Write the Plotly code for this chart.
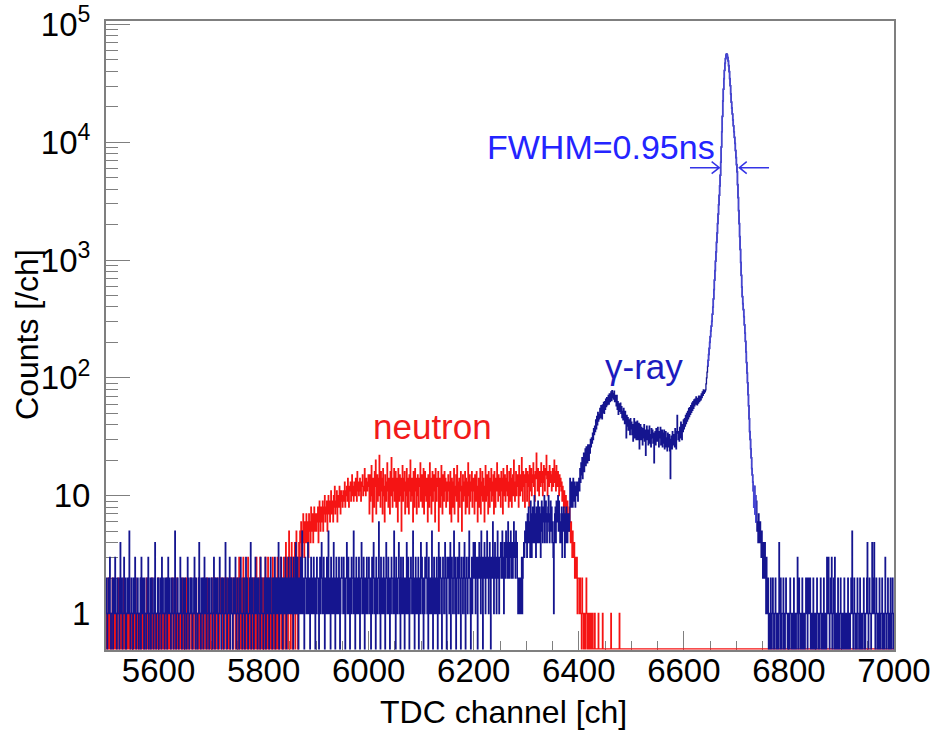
import numpy as np
import plotly.graph_objects as go

# ---------------- data (counts per TDC channel) ----------------
first_channel = 5500
last_channel = 7000

# total (gamma + neutron) spectrum, dark blue
blue_5500 = [
    2,1,0,1,2,2,1,3,1,0, 1,1,2,0,2,1,1,3,2,1, 0,1,2,1,1,0,2,4,1,1, 2,0,1,1,3,1,2,0,0,1, 2,1,1,2,5,1,0,1,2,1,
    1,0,2,1,1,3,1,0,1,2, 2,1,0,1,1,2,0,3,1,1, 2,1,0,2,1,1,0,1,2,1, 3,0,1,1,2,0,1,2,1,1, 0,2,1,4,1,0,1,1,2,2,
    0,1,1,2,1,0,3,1,2,1, 1,0,2,1,1,2,0,1,3,1, 1,2,1,0,1,2,1,1,0,2, 1,5,1,0,1,2,2,1,0,1, 1,3,1,2,0,1,1,2,1,0,
    2,1,1,0,1,3,2,1,0,1, 2,1,1,2,0,1,1,2,3,1, 0,2,1,1,0,1,2,4,1,1, 0,2,1,1,2,0,1,3,1,1, 2,0,1,1,2,1,0,2,1,1,
    1,2,0,1,1,3,1,0,2,1, 1,2,1,0,1,2,3,1,1,0, 2,1,1,2,0,1,1,4,2,1, 0,1,2,1,1,3,0,1,2,1, 1,0,2,1,1,2,3,1,0,1,
    2,1,1,0,2,1,3,1,1,0, 1,2,2,1,0,1,3,1,2,1, 0,1,1,2,1,4,0,1,2,1, 1,0,2,1,3,1,1,2,0,1, 2,1,1,0,3,1,2,1,1,0,
    1,2,1,3,0,1,2,1,1,2, 0,2,1,3,1,1,0,2,2,1, 1,3,0,1,2,2,1,1,4,0, 2,1,1,3,2,1,0,2,1,2, 1,3,1,0,2,2,1,3,1,2,
]
blue_5850 = [
    2,1,3,2,1,2,0,3,2,1, 2,4,1,2,3,1,0,2,2,1, 3,2,1,5,2,1,2,0,1,3, 2,2,1,2,4,1,2,1,0,2, 3,1,2,2,1,3,1,2,0,2,
    1,3,2,2,1,0,2,3,1,2, 4,2,1,1,3,2,0,2,1,2, 3,1,2,5,1,2,2,0,3,1, 2,2,1,4,2,1,0,2,3,1, 2,2,1,3,2,0,1,2,3,2,
    2,1,3,1,2,0,2,2,4,1, 2,3,1,2,0,2,1,3,2,2, 1,5,2,1,0,2,3,1,2,2, 1,3,2,0,1,2,4,2,1,2, 3,1,0,2,2,1,3,2,1,2,
    3,2,1,2,0,2,3,1,2,4, 2,1,2,0,3,2,1,2,2,6, 1,2,0,3,1,2,2,1,3,2, 1,0,2,4,2,1,2,3,1,2, 0,2,1,3,2,2,1,2,5,1,
    2,0,3,2,1,2,2,4,1,2, 0,3,2,1,2,3,1,2,0,2, 2,1,4,2,1,3,2,0,1,2, 3,2,1,2,5,1,2,0,2,3, 1,2,2,1,3,0,2,2,1,4,
    2,3,1,2,0,2,1,3,2,2, 4,1,2,0,3,2,1,2,2,1, 5,2,0,2,3,1,2,2,1,3, 2,0,2,4,1,2,3,2,1,0, 2,3,2,1,2,4,2,1,0,3,
    2,2,3,1,2,4,0,2,3,2, 1,2,5,2,1,3,0,2,2,3, 1,2,4,2,1,0,3,2,2,1, 3,2,4,1,0,2,3,2,1,2, 3,5,2,1,0,2,3,1,2,4,
    3,2,4,1,2,3,2,0,3,2, 4,3,2,1,5,2,3,0,2,3, 4,2,1,3,2,5,2,3,1,2, 4,3,0,2,3,2,6,2,1,3, 4,2,3,1,2,5,3,2,1,3,
    3,4,2,3,5,2,3,1,4,3, 2,5,3,4,2,6,3,2,4,3, 5,2,3,4,2,3,6,4,3,2, 5,3,4,2,1,2,1,1,2,1, 2,3,1,2,3,4,3,5,4,6,
]
blue_6300 = [
    5,3,7,4,8,4,6,3,9,5, 3,7,8,4,6,10,4,7,3,8, 6,4,9,5,4,8,6,3,7,9, 5,4,8,6,10,4,6,9,7,4, 6,8,10,5,4,7,9,5,8,4,
    6,3,1,4,7,8,4,9,6,8, 10,5,9,7,4,6,4,8,3,7, 5,8,6,3,7,4,8,6,4,7, 7,5,6,14,10,8,13,9,8,14, 11,9,13,8,12,10,13,11,9,13,
]
blue_6400 = [
    14,11,17,13,19,15,21,14,20,23,
    16,22,25,18,26,21,19,27,22,20,
    27,23,30,26,31,28,34,30,37,33,
    39,35,44,37,47,40,51,43,49,45,
    55,46,58,49,45,59,51,62,50,63,
    54,66,57,68,59,64,71,60,73,63,
    69,76,64,78,68,74,66,77,63,71,
]
blue_6470 = [
    66,58,71,54,63,49,60,57,52,61,
    50,57,46,52,44,55,47,41,52,45,
    31,48,39,46,36,44,40,33,45,37,
    42,33,40,29,39,45,31,38,42,30,
    37,43,30,36,41,25,35,40,30,38,
    33,27,37,31,40,29,36,22,34,39,
    30,36,27,34,39,28,33,26,37,31,
    36,28,34,19,30,35,27,37,29,33,
    38,29,26,35,31,38,27,34,36,26,
    34,28,36,25,33,35,26,31,24,34,
    29,26,33,24,14,30,32,25,35,28,
    27,33,26,37,30,25,35,48,34,30,
    35,29,38,31,42,33,30,40,35,44,
    37,45,39,48,41,50,43,52,45,55,
    47,56,49,58,51,61,53,63,55,65,
    58,66,60,69,62,59,67,61,70,63,
    64,70,65,73,68,76,71,79,74,78,
]
blue_6640 = [
    76,79,89,100,112,126,141,158,178,200,
    224,251,275,302,347,398,468,562,676,813,
    977,1175,1413,1698,2042,2455,2951,3548,4266,5248,
    6761,9120,12300,16600,22400,28200,34700,40700,46800,51300,
    55000,56200,55000,52500,49000,44700,39800,34700,30200,25700,
    21900,19500,17400,15500,13800,12300,11000,9770,8510,7410,
    6460,5620,4370,3390,2630,2040,1580,1230,955,741,
    589,490,427,380,331,282,240,204,166,135,
    110,91,72,58,45,35,30,25,21,17,
    15,13,11,8,12,7,10,6,9,5,
    6,4,7,5,4,6,4,3,5,4,
    2,4,3,2,4,3,1,3,2,1,
]
blue_6760 = [
    2,0,1,1,0,2,1,0,1,2, 1,0,0,1,2,1,0,1,1,0, 1,4,1,0,2,1,0,1,1,2, 0,1,0,1,2,1,1,0,1,0,
    1,0,2,1,1,0,1,0,1,2, 0,1,1,0,1,1,3,0,1,2, 1,0,1,1,0,2,1,0,1,1, 0,1,2,1,2,0,1,2,2,1,
    2,0,1,1,0,1,2,0,1,1, 0,1,0,2,1,1,0,1,0,1, 2,1,0,1,1,0,2,1,0,1, 1,0,3,1,2,3,1,0,1,2,
    1,3,0,1,1,2,0,3,1,0, 1,1,0,2,1,0,1,1,2,0, 1,0,1,1,0,2,1,0,1,1, 0,1,2,0,1,1,0,1,2,1,
    5,1,0,1,2,1,0,1,1,0, 2,1,1,0,1,2,0,1,1,0, 1,1,2,0,1,0,1,1,2,4, 1,0,1,2,1,1,0,1,4,1,
    2,1,4,1,0,1,2,1,0,1, 1,0,2,1,0,1,1,2,0,1, 1,0,1,3,1,0,1,1,2,0, 1,1,0,2,1,0,1,2,1,0,
]

# neutron-gated spectrum, red
red_5500 = [
    1,0,0,1,2,0,1,1,0,0, 1,0,2,1,0,0,1,1,0,1, 0,0,1,2,1,0,0,1,0,1, 1,0,0,2,1,0,1,0,0,1, 1,0,1,0,2,0,0,1,1,0,
    0,1,1,0,0,1,2,0,1,0, 0,1,1,0,1,0,2,1,0,0, 1,0,1,1,0,0,1,2,0,1, 0,1,0,0,1,1,0,2,1,0, 0,1,0,1,1,0,1,0,0,2,
    1,0,1,1,0,0,2,1,0,1, 0,0,1,1,0,1,2,0,0,1, 1,0,1,0,0,1,2,1,0,0, 1,1,0,1,0,2,1,0,1,0, 0,1,1,0,1,2,0,1,0,1,
    0,1,2,0,1,1,0,0,1,0, 1,2,1,0,1,0,0,1,1,2, 0,1,0,1,1,0,2,1,0,1, 0,1,1,0,0,2,1,1,0,1, 0,1,2,0,1,1,0,1,0,1,
    1,2,0,1,1,0,1,2,1,0, 1,1,2,0,1,0,1,2,1,1, 0,2,1,0,1,1,2,1,0,1, 2,1,1,0,1,2,0,1,1,2, 1,0,1,2,1,1,0,2,1,1,
    2,0,1,3,0,2,0,1,2,0, 1,3,0,1,2,0,2,1,0,1, 3,0,1,0,2,1,0,1,2,0, 1,2,0,2,1,0,3,1,0,0, 2,1,0,3,1,0,2,1,0,2,
    1,0,2,3,0,2,1,0,3,1, 0,1,2,0,1,2,0,3,1,0, 2,1,0,2,1,0,3,2,0,1, 0,2,3,1,0,2,1,0,3,2, 1,0,4,2,1,3,0,2,5,3,
]
red_5850 = [
    2,0,1,4,2,0,3,2,1,4, 0,2,5,1,3,0,3,4,2,5, 4,6,3,5,4,7,5,3,6,4, 5,7,4,6,5,3,7,5,6,4, 8,5,6,7,4,6,8,5,7,6,
    5,7,6,8,4,7,9,6,5,8, 7,6,9,5,8,7,10,6,8,7, 9,5,8,10,7,9,6,8,11,7, 9,8,6,10,8,12,7,9,8,11, 6,9,10,8,12,9,7,11,9,10,
    8,11,10,9,13,8,11,10,12,9, 14,10,8,12,11,13,9,11,15,10, 12,9,13,11,10,14,12,9,16,11, 13,10,12,14,11,9,13,12,15,10, 12,11,17,13,10,14,12,11,13,15,
]
red_6000 = [
    12,7,15,9,13,18,10,6,14,11, 8,16,12,20,7,13,15,9,14,10, 22,12,8,16,11,14,7,17,12,10, 6,15,13,9,12,19,11,8,14,12, 7,16,10,21,13,8,14,11,17,9,
    13,16,8,14,11,6,17,12,9,15, 10,14,5,13,18,9,14,11,16,7, 13,10,17,8,14,12,7,15,11,20, 9,13,14,10,6,16,12,8,17,11, 14,7,13,15,10,8,14,12,19,9,
    11,15,8,13,17,7,12,16,10,9, 14,11,6,15,13,8,19,10,14,7, 12,16,9,11,15,13,6,17,11,9, 14,12,16,5,11,14,8,13,18,10, 7,15,12,9,16,11,14,8,13,10,
    9,15,11,13,7,16,12,6,14,13, 8,11,17,7,12,10,15,9,18,11, 6,13,14,8,12,16,11,5,12,15, 9,13,10,16,7,14,11,8,13,19, 10,7,15,9,13,11,16,8,12,14,
    11,7,15,13,9,16,10,6,12,14, 8,11,17,7,13,10,16,9,14,12, 6,11,18,9,13,15,10,7,16,12, 8,14,11,17,9,13,10,15,7,16, 12,8,14,11,19,12,9,15,10,14,
    12,8,16,11,14,7,17,12,10,15, 9,14,11,18,10,13,8,16,12,9, 17,14,8,12,15,10,20,13,9,11, 16,10,14,15,12,8,18,13,10,15, 11,21,13,9,16,12,15,8,14,17,
    13,9,16,12,15,8,18,13,11,17, 10,15,13,19,12,15,9,16,14,23, 15,11,17,13,10,16,14,12,19,13, 16,10,15,18,13,11,17,15,22,14, 10,16,15,12,18,13,16,14,11,15,
]
red_6350 = [
    17,12,15,20,13,16,11,18,14,12, 16,13,10,15,12,14,11,13,9,12, 10,8,11,9,7,10,8,6,9,7, 7,5,8,6,4,6,5,3,5,4, 3,4,2,3,2,2,3,1,2,2,
    2,1,2,1,1,0,2,1,1,0, 1,1,0,1,2,1,0,1,1,0, 1,0,0,1,0,0,1,0,0,0, 1,0,0,0,0,0,0,1,0,0, 0,0,0,0,0,1,0,0,0,0,
    0,0,0,0,0,0,0,0,0,0, 0,1,0,0,0,0,0,0,0,0, 0,0,0,0,0,0,0,1,0,0, 0,0,0,0,0,0,0,0,0,0, 0,0,0,0,0,0,0,0,0,0,
]
red_6500 = [0] * 500   # no neutron counts above channel 6500

y_tick_values = [1, 10, 100, 1000, 10000, 100000]
y_tick_labels = ["1", "10", "10<sup>2</sup>", "10<sup>3</sup>", "10<sup>4</sup>", "10<sup>5</sup>"]
x_tick_values = [5600, 5800, 6000, 6200, 6400, 6600, 6800, 7000]

blue_counts = blue_5500 + blue_5850 + blue_6300 + blue_6400 + blue_6470 + blue_6640 + blue_6760
red_counts = red_5500 + red_5850 + red_6000 + red_6350 + red_6500
n_ch = last_channel - first_channel
assert len(blue_counts) == n_ch
assert len(red_counts) == n_ch

Y_MIN = 0.49      # bottom of the log frame
ZERO_LEVEL = 0.5  # empty bins are drawn at the frame bottom (ROOT style)
Y_MAX = 1.07e5
PEAK_FROM, PEAK_TO = 6645, 6738   # thin, lighter-looking part of the main peak


def hist_xy(counts, lo=None, hi=None):
    c = np.asarray(counts, dtype=float)
    shown = np.where(c > 0, c, ZERO_LEVEL)
    x = first_channel + np.arange(len(c) + 1)
    y = np.append(shown, shown[-1])
    if lo is None:
        return x, y
    i0, i1 = lo - first_channel, hi - first_channel
    return x[i0:i1 + 1], np.append(shown[i0:i1], shown[i1 - 1])


GREY = "#7f7f7f"
NAVY = "#15158f"
PEAK_BLUE = "#4646d2"
RED = "#f51414"

fig = go.Figure()
rx, ry = hist_xy(red_counts)
bx, by = hist_xy(blue_counts)
px_, py_ = hist_xy(blue_counts, PEAK_FROM, PEAK_TO)
fig.add_trace(go.Scatter(x=rx, y=ry, mode="lines", line=dict(color=RED, width=1.3, shape="hv"),
                         name="neutron", hoverinfo="skip"))
fig.add_trace(go.Scatter(x=bx, y=by, mode="lines", line=dict(color=NAVY, width=1.3, shape="hv"),
                         name="all", hoverinfo="skip"))
fig.add_trace(go.Scatter(x=px_, y=py_, mode="lines", line=dict(color=PEAK_BLUE, width=1.6, shape="hv"),
                         name="peak", hoverinfo="skip"))

FONT = "Liberation Sans, Arial, sans-serif"

fig.update_layout(
    width=935, height=731,
    margin=dict(l=106, r=41, t=21, b=81, autoexpand=False),
    plot_bgcolor="white", paper_bgcolor="white",
    showlegend=False,
    font=dict(family=FONT, size=33, color="black"),
)
fig.update_xaxes(
    range=[first_channel, last_channel],
    tickmode="array", tickvals=x_tick_values,
    ticks="inside", ticklen=19, tickwidth=1, tickcolor=GREY,
    minor=dict(dtick=50, tick0=5500, ticks="inside", ticklen=9, tickwidth=1, tickcolor=GREY),
    showline=True, linecolor=GREY, linewidth=2, mirror=True,
    showgrid=False, zeroline=False, automargin=False,
    tickfont=dict(size=33),
    ticklabelstandoff=-10,
    ticklabeloverflow="allow",
    layer="below traces",
)
fig.update_yaxes(
    type="log",
    range=[np.log10(Y_MIN), np.log10(Y_MAX)],
    tickmode="array", tickvals=y_tick_values, ticktext=y_tick_labels,
    ticks="inside", ticklen=24, tickwidth=1, tickcolor=GREY,
    minor=dict(dtick="D1", ticks="inside", ticklen=12, tickwidth=1, tickcolor=GREY),
    showline=True, linecolor=GREY, linewidth=2, mirror=True,
    showgrid=False, zeroline=False, automargin=False,
    tickfont=dict(size=33),
    ticklabelstandoff=7,
    ticklabeloverflow="allow",
    layer="below traces",
)

# axis titles
fig.add_annotation(x=0.504, y=-0.0986, xref="paper", yref="paper", text="TDC channel [ch]",
                   showarrow=False, font=dict(family=FONT, size=32, color="black"),
                   xanchor="center", yanchor="middle")
fig.add_annotation(x=-0.1003, y=0.5024, xref="paper", yref="paper", text="Counts [/ch]",
                   showarrow=False, textangle=-90, font=dict(family=FONT, size=32, color="black"),
                   xanchor="center", yanchor="middle")

fig.add_annotation(x=6121, y=1.59, xref="x", yref="y", text="neutron", showarrow=False,
                   font=dict(family=FONT, size=35, color="#f21a1a"), xanchor="center", yanchor="middle")
fig.add_annotation(x=6525, y=2.10, xref="x", yref="y", text="γ-ray", showarrow=False,
                   font=dict(family=FONT, size=35, color="#1c1cbf"), xanchor="center", yanchor="middle")
fig.add_annotation(x=6664, y=3.96, xref="x", yref="y", text="FWHM=0.95ns", showarrow=False,
                   font=dict(family=FONT, size=34, color="#2424ff"), xanchor="right", yanchor="middle")

ARROW = "#3434e6"
# FWHM arrows (paper coordinates of the frame)
fig.add_shape(type="path", xref="paper", yref="paper",
              path="M 0.7411,0.7668 L 0.7783,0.7668 M 0.7686,0.7763 L 0.7783,0.7668 L 0.7686,0.7573",
              line=dict(color=ARROW, width=1.5))
fig.add_shape(type="path", xref="paper", yref="paper",
              path="M 0.8414,0.7668 L 0.8037,0.7668 M 0.8131,0.7763 L 0.8037,0.7668 L 0.8131,0.7573",
              line=dict(color=ARROW, width=1.5))

# remove the default 8 px page margin so the figure fills the window exactly
fig.write_html("out.html",
               config={"displayModeBar": False},
               post_script="document.body.style.margin='0px';document.body.style.overflow='hidden';")
